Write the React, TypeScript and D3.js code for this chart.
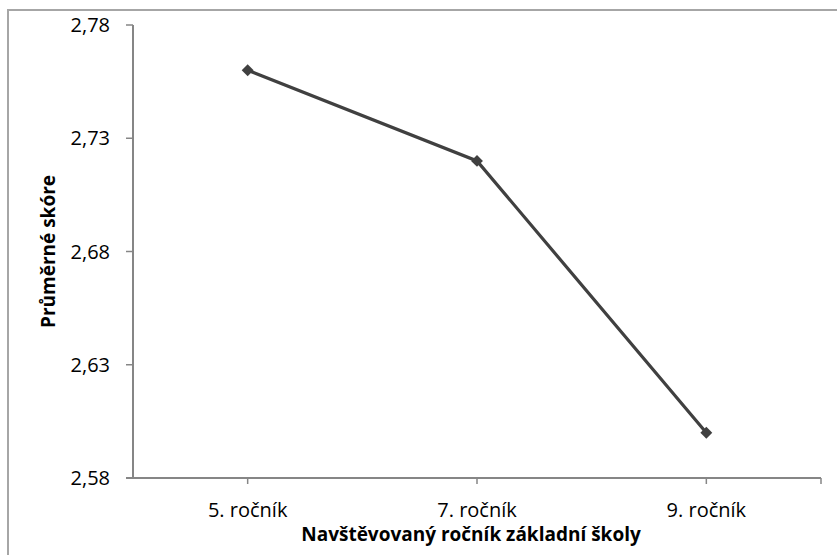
import React from "react";
import * as d3 from "d3";

const categories = ["5. ročník", "7. ročník", "9. ročník"];
const values = [2.76, 2.72, 2.6];
const yTicks = [2.58, 2.63, 2.68, 2.73, 2.78];
const xTitle = "Navštěvovaný ročník základní školy";
const yTitle = "Průměrné skóre";

const W = 837;
const H = 555;
const FONT = "'Open Sans', 'Noto Sans', sans-serif";

export default function App() {
  const left = 133;
  const right = 821;
  const top = 25;
  const bottom = 478;
  const x = d3.scaleBand<string>().domain(categories).range([left, right]);
  const y = d3.scaleLinear().domain([2.58, 2.78]).range([bottom, top]);
  const cx = (c: string) => (x(c) as number) + x.bandwidth() / 2;
  const line = d3
    .line<number>()
    .x((_, i) => cx(categories[i]))
    .y((d) => y(d));
  const diamond = d3.symbol().type(d3.symbolDiamond2).size(90)() as string;
  const fmt = (v: number) => v.toFixed(2).replace(".", ",");
  const axisColor = "#868686";
  const xTickPositions = [...categories.map(cx), right];

  return (
    <svg
      width={W}
      height={H}
      style={{ position: "absolute", left: 0, top: 0, background: "#fff" }}
    >
      <rect x={8} y={10} width={900} height={700} fill="#fff" stroke="#a6a6a6" strokeWidth={2} />
      {/* y axis */}
      <line x1={left} x2={left} y1={top} y2={bottom} stroke={axisColor} strokeWidth={2} />
      {yTicks.map((t) => (
        <g key={t}>
          <line x1={left - 7} x2={left} y1={y(t)} y2={y(t)} stroke={axisColor} strokeWidth={1.5} />
          <text
            x={110}
            y={y(t)}
            dy="0.36em"
            textAnchor="end"
            fontFamily={FONT}
            fontSize={20}
            fill="#000"
          >
            {fmt(t)}
          </text>
        </g>
      ))}
      {/* x axis */}
      <line x1={left - 7} x2={right} y1={bottom} y2={bottom} stroke={axisColor} strokeWidth={2} />
      {xTickPositions.map((p, i) => (
        <line key={i} x1={p} x2={p} y1={bottom} y2={bottom + 6} stroke={axisColor} strokeWidth={1.5} />
      ))}
      {categories.map((c) => (
        <text
          key={c}
          x={cx(c)}
          y={517}
          textAnchor="middle"
          fontFamily={FONT}
          fontSize={20}
          fill="#000"
        >
          {c}
        </text>
      ))}
      <text
        x={(left + right) / 2 - 6}
        y={541}
        textAnchor="middle"
        fontFamily={FONT}
        fontSize={19}
        fontWeight="bold"
        fill="#000"
      >
        {xTitle}
      </text>
      <text
        transform={`translate(55, ${(top + bottom) / 2}) rotate(-90)`}
        textAnchor="middle"
        fontFamily={FONT}
        fontSize={19}
        fontWeight="bold"
        fill="#000"
      >
        {yTitle}
      </text>
      {/* series */}
      <path d={line(values) as string} fill="none" stroke="#404040" strokeWidth={3.2} />
      {values.map((v, i) => (
        <path
          key={i}
          d={diamond}
          transform={`translate(${cx(categories[i])}, ${y(v)})`}
          fill="#404040"
        />
      ))}
    </svg>
  );
}
